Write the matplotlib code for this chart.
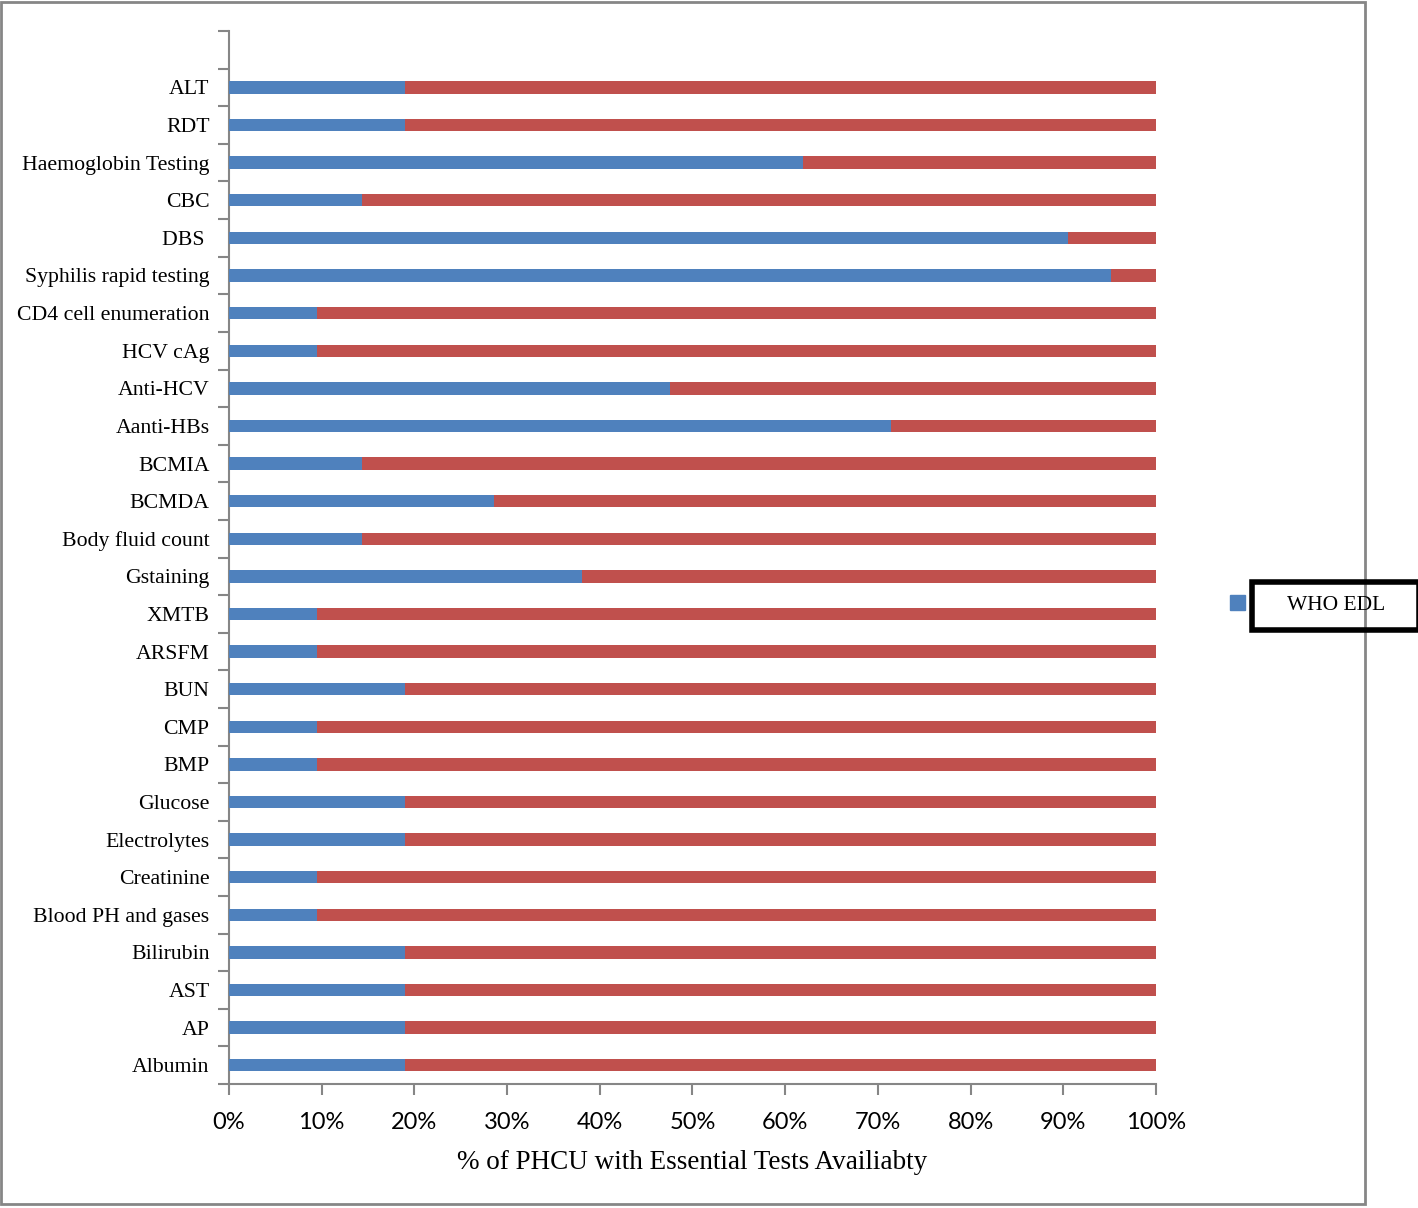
import matplotlib
matplotlib.use("Agg")
import matplotlib.pyplot as plt
from matplotlib.patches import Rectangle, Patch
import numpy as np

# tests, top to bottom as shown in the chart
tests = [
    "ALT", "RDT", "Haemoglobin Testing", "CBC", "DBS ", "Syphilis rapid testing",
    "CD4 cell enumeration", "HCV cAg", "Anti-HCV", "Aanti-HBs", "BCMIA", "BCMDA",
    "Body fluid count", "Gstaining", "XMTB", "ARSFM", "BUN", "CMP", "BMP",
    "Glucose", "Electrolytes", "Creatinine", "Blood PH and gases", "Bilirubin",
    "AST", "AP", "Albumin",
]
# % of PHCU with the test available (blue)
available = [
    19.0, 19.0, 61.9, 14.3, 90.5, 95.2,
    9.5, 9.5, 47.6, 71.4, 14.3, 28.6,
    14.3, 38.1, 9.5, 9.5, 19.0, 9.5, 9.5,
    19.0, 19.0, 9.5, 9.5, 19.0,
    19.0, 19.0, 19.0,
]
not_available = [100 - v for v in available]

blue = "#4F81BD"
red = "#C0504D"
grey = "#868686"

W, H = 1418, 1208
fig = plt.figure(figsize=(W / 100, H / 100), dpi=100)
ax = fig.add_axes([0.1615, 0.1026, 0.6537, 0.8717])

n = len(tests)
ypos = np.arange(n)[::-1]  # ALT at top
ax.barh(ypos, available, height=0.33, color=blue, zorder=3)
ax.barh(ypos, not_available, left=available, height=0.33, color=red, zorder=3)

ax.set_xlim(0, 100)
ax.set_ylim(-0.5, n + 0.5)  # one empty slot above ALT

# category boundary ticks, labels on minor ticks
ax.set_yticks(np.arange(-0.5, n + 1, 1.0))
ax.set_yticklabels([])
ax.set_yticks(ypos, minor=True)
ax.set_yticklabels(tests, minor=True, fontsize=15.7, family="Liberation Serif")
ax.tick_params(axis="y", which="major", length=8, width=1.5, color=grey, direction="out")
ax.tick_params(axis="y", which="minor", length=0, pad=14)

xt = np.arange(0, 101, 10)
ax.set_xticks(xt)
ax.set_xticklabels(["%d%%" % v for v in xt], fontsize=17, family="Lato")
ax.tick_params(axis="x", length=8, width=1.5, color=grey, direction="out", pad=12)

for s in ("top", "right"):
    ax.spines[s].set_visible(False)
for s in ("left", "bottom"):
    ax.spines[s].set_color(grey)
    ax.spines[s].set_linewidth(1.5)

ax.set_xlabel("% of PHCU with Essential Tests Availiabty", fontsize=19.5,
              family="Liberation Serif", labelpad=12)

# legend: only the blue series
leg = fig.legend(handles=[Patch(color=blue)], labels=["WHO EDL"],
                 loc="center left", bbox_to_anchor=(0.854, 0.4992), frameon=False,
                 handlelength=0.7, handleheight=0.7, handletextpad=1.95,
                 prop={"family": "Liberation Serif", "size": 15.5})

# thick black box around the legend label
fig.canvas.draw()
bb = leg.get_texts()[0].get_window_extent()
x0, x1 = bb.x0 - 35, bb.x1 + 33
yc = (bb.y0 + bb.y1) / 2
fig.patches.append(Rectangle((x0 / W, (yc - 24) / H), (x1 - x0) / W, 48 / H,
                             transform=fig.transFigure, fill=False,
                             edgecolor="black", linewidth=4, zorder=5))

# outer figure border
fig.patches.append(Rectangle((0.001, 0.003), 1365 / W - 0.001, 0.995,
                             transform=fig.transFigure, fill=False,
                             edgecolor=grey, linewidth=2))

fig.savefig("out.png", dpi=100)
